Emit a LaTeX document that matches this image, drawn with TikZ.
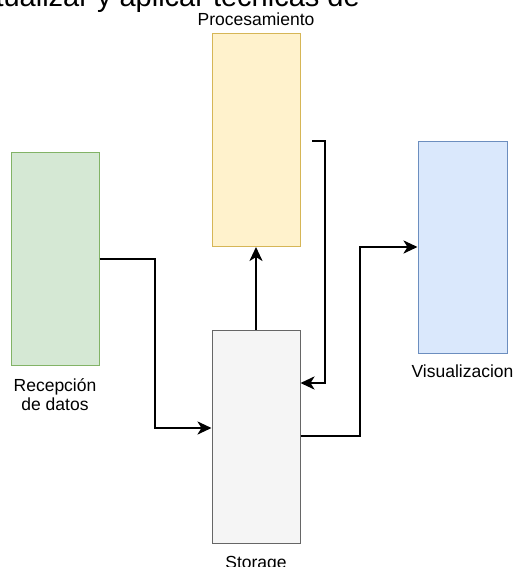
\documentclass[tikz,border=0pt]{standalone}
\usepackage{fontspec}
\setmainfont{Liberation Sans}
\usetikzlibrary{arrows.meta}
\definecolor{gfill}{HTML}{D5E8D4}\definecolor{gdraw}{HTML}{82B366}
\definecolor{yfill}{HTML}{FFF2CC}\definecolor{ydraw}{HTML}{D6B656}
\definecolor{sfill}{HTML}{F5F5F5}\definecolor{sdraw}{HTML}{666666}
\definecolor{bfill}{HTML}{DAE8FC}\definecolor{bdraw}{HTML}{6C8EBF}
\tikzset{
  blockbox/.style={rectangle, line width=1pt, inner sep=0pt, minimum width=88pt, minimum height=213pt},
  lbl/.style={font=\fontsize{17.5}{19}\selectfont, inner sep=0pt, align=center},
  flow/.style={line width=2.8pt, -{Stealth[length=14pt,width=13pt,inset=4pt]}},
}
\begin{document}
\begin{tikzpicture}[x=1pt,y=-1pt]
\useasboundingbox (0,0) rectangle (512,567);
\clip (0,0) rectangle (512,567);
\fill[white] (0,0) rectangle (512,567);
\node[lbl, anchor=base east, font=\fontsize{29}{32}\selectfont] (top) at (360,7) {actualizar y aplicar técnicas de};
\node[blockbox, fill=gfill, draw=gdraw] (rec) at (55,259) {};
\node[blockbox, fill=yfill, draw=ydraw] (pro) at (256,140) {};
\node[blockbox, fill=sfill, draw=sdraw] (sto) at (256,436.5) {};
\node[blockbox, fill=bfill, draw=bdraw, minimum width=89pt, minimum height=212pt] (vis) at (462.5,247) {};
\node[lbl, anchor=base] (lpro) at (256,26) {Procesamiento};
\node[lbl, anchor=base] (lrec) at (55,410) {Recepción\\de datos};
\node[lbl, anchor=base] (lvis) at (462.5,377) {Visualizacion};
\node[lbl, anchor=base] (lsto) at (256,568) {Storage};
\coordinate (c1) at (155,259);
\coordinate (c1b) at (155,428);
\draw[flow] (rec.east) -- (c1) -- (c1b) -- (sto.west |- c1b);
\draw[flow] (sto.north) -- (pro.south);
\coordinate (p3) at (312,141);
\coordinate (p3a) at (325,141);
\coordinate (p3b) at (325,383);
\draw[flow] (p3) -- (p3a) -- (p3b) -- (sto.east |- p3b);
\coordinate (c4) at (360,436);
\coordinate (c4b) at (360,247);
\draw[flow] (sto.east |- c4) -- (c4) -- (c4b) -- (vis.west);
\end{tikzpicture}
\end{document}
